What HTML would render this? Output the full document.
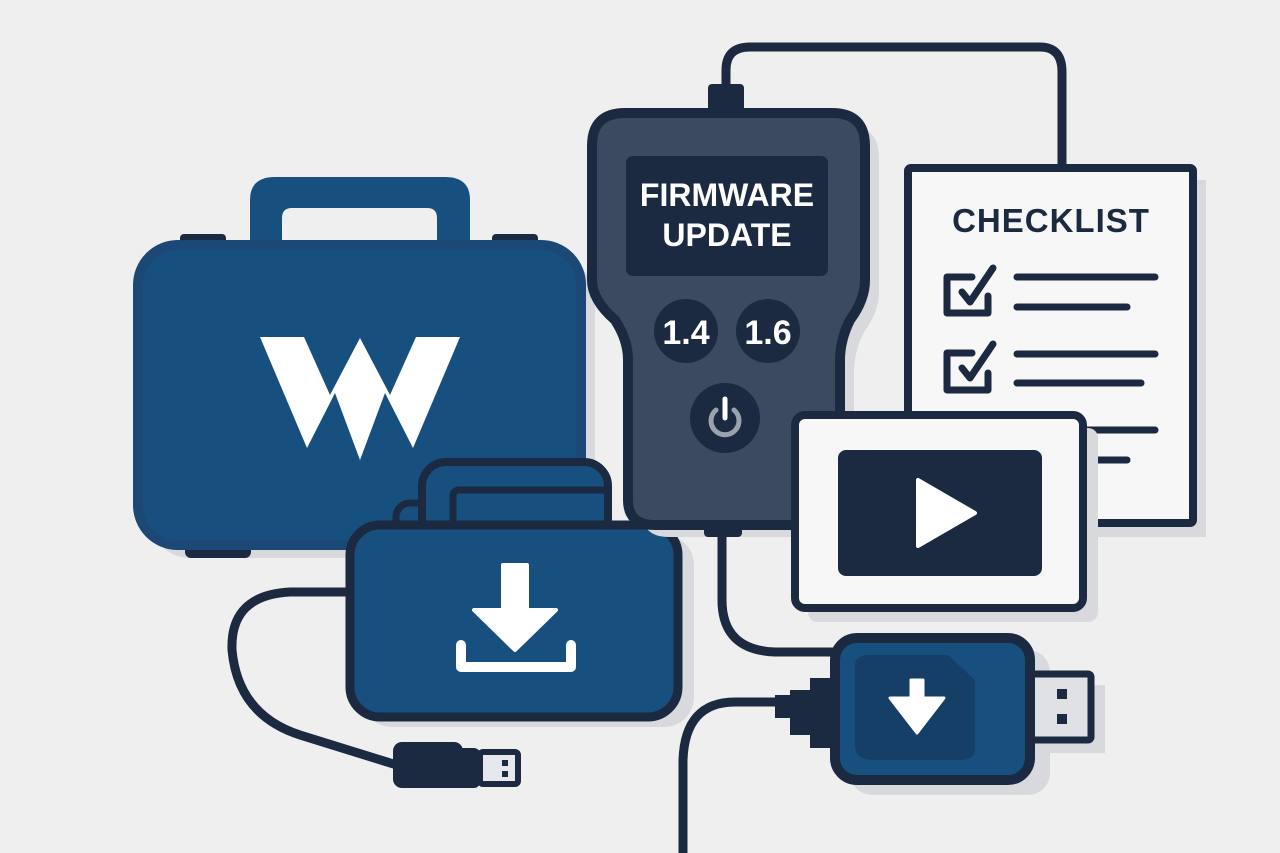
<!DOCTYPE html>
<html><head><meta charset="utf-8"><style>html,body{margin:0;padding:0;background:#efefef}svg{display:block}</style></head>
<body>
<svg width="1280" height="853" viewBox="0 0 1280 853" xmlns="http://www.w3.org/2000/svg" font-family="Liberation Sans, sans-serif">
<rect width="1280" height="853" fill="#efefef"/>
<g fill="none" stroke="#1b2a40" stroke-linecap="round" stroke-linejoin="round">
<path d="M726 88 V70 Q726 47 750 47 H1040 Q1062 47 1062 72 V170" stroke-width="9"/>
<path d="M722 532 V600 Q722 650 775 652 H840" stroke-width="9"/>
<path d="M775 702 H735 Q685 702 683 760 V853" stroke-width="9"/>
<path d="M352 592 H290 Q230 595 232 650 Q238 715 300 735 L400 766" stroke-width="9"/>
</g>
<rect x="150" y="258" width="445" height="300" rx="40" fill="#d7d9dd"/>
<path d="M250 245 V200 Q250 177 275 177 H445 Q470 177 470 200 V245 H437 V218 Q437 208 427 208 H292 Q282 208 282 218 V245 Z" fill="#17507f"/>
<rect x="180" y="234" width="46" height="16" rx="4" fill="#1b2a40"/>
<rect x="492" y="234" width="46" height="16" rx="4" fill="#1b2a40"/>
<rect x="185" y="538" width="66" height="20" rx="6" fill="#1b2a40"/>
<rect x="138" y="245" width="443" height="300" rx="40" fill="#17507f" stroke="#1b4874" stroke-width="10"/>
<polygon points="260,337 304,337 330,395 360,338 390,395 416,337 460,337 413,448 385,393 360,460 335,393 307,448" fill="#fff"/>
<rect x="362" y="535" width="332" height="192" rx="30" fill="#d7d9dd"/>
<rect x="396" y="503" width="40" height="30" rx="14" fill="#17507f" stroke="#1b2a40" stroke-width="7"/>
<rect x="422" y="462" width="186" height="80" rx="24" fill="#17507f" stroke="#1b2a40" stroke-width="8"/>
<rect x="453" y="490" width="155" height="50" rx="6" fill="none" stroke="#1b2a40" stroke-width="7"/>
<rect x="350" y="525" width="328" height="192" rx="30" fill="#17507f" stroke="#1b2a40" stroke-width="9"/>
<polygon points="503,565 527,565 527,610 556,610 515,650 474,610 503,610" fill="#fff" stroke="#fff" stroke-width="4" stroke-linejoin="round"/>
<path d="M461 645 V667 H571 V645" fill="none" stroke="#fff" stroke-width="10" stroke-linejoin="round" stroke-linecap="round"/>
<rect x="393" y="742" width="70" height="46" rx="9" fill="#1b2a40"/>
<rect x="420" y="748" width="60" height="40" rx="6" fill="#1b2a40"/>
<rect x="480" y="752" width="38" height="32" rx="3" fill="#e6e8eb" stroke="#1b2a40" stroke-width="6"/>
<rect x="502" y="760" width="6" height="6" fill="#1b2a40"/><rect x="502" y="771" width="6" height="6" fill="#1b2a40"/>
<path d="M625 113 H832 Q865 113 865 146 V280 Q865 300 850 320 Q840 340 840 360 V500 Q840 525 815 525 H655 Q628 525 628 500 V360 Q628 340 615 320 Q592 300 592 280 V146 Q592 113 625 113 Z" fill="#d7d9dd" transform="translate(14,12)"/>
<rect x="708" y="84" width="36" height="34" rx="4" fill="#1b2a40"/>
<rect x="704" y="515" width="38" height="22" rx="4" fill="#1b2a40"/>
<path d="M625 113 H832 Q865 113 865 146 V280 Q865 300 850 320 Q840 340 840 360 V500 Q840 525 815 525 H655 Q628 525 628 500 V360 Q628 340 615 320 Q592 300 592 280 V146 Q592 113 625 113 Z" fill="#3b4a5e" stroke="#1b2a40" stroke-width="10"/>
<rect x="626" y="156" width="202" height="120" rx="7" fill="#1b2a40"/>
<text x="727" y="206" fill="#fff" font-size="32" font-weight="bold" text-anchor="middle">FIRMWARE</text>
<text x="727" y="246" fill="#fff" font-size="32" font-weight="bold" text-anchor="middle">UPDATE</text>
<circle cx="686" cy="331" r="32" fill="#1b2a40"/>
<circle cx="768" cy="331" r="32" fill="#1b2a40"/>
<text x="686" y="344" fill="#fff" font-size="34" font-weight="bold" text-anchor="middle">1.4</text>
<text x="768" y="344" fill="#fff" font-size="34" font-weight="bold" text-anchor="middle">1.6</text>
<circle cx="725" cy="418" r="35" fill="#1b2a40"/>
<path d="M716 410 A14 14 0 1 0 734 410" fill="none" stroke="#9aa3ad" stroke-width="5" stroke-linecap="round"/>
<line x1="725" y1="399" x2="725" y2="418" stroke="#fff" stroke-width="5" stroke-linecap="round"/>
<rect x="920" y="180" width="286" height="357" fill="#d7d9dd"/>
<rect x="908" y="168" width="285" height="355" rx="3" fill="#f7f7f8" stroke="#1b2a40" stroke-width="8"/>
<text x="1051" y="232" fill="#1b2a40" font-size="33" font-weight="bold" text-anchor="middle" letter-spacing="1">CHECKLIST</text>
<g fill="none" stroke="#1b2a40" stroke-width="7" stroke-linecap="round" stroke-linejoin="round">
<path d="M972 277 H947 V313 H988 V296"/><path d="M962 292 L970 302 L993 268"/>
<path d="M972 353 H947 V390 H988 V373"/><path d="M962 368 L970 378 L993 344"/>
<line x1="1017" y1="277" x2="1155" y2="277"/><line x1="1017" y1="307" x2="1127" y2="307"/>
<line x1="1017" y1="354" x2="1155" y2="354"/><line x1="1017" y1="383" x2="1141" y2="383"/>
<line x1="1080" y1="430" x2="1155" y2="430"/><line x1="1080" y1="460" x2="1127" y2="460"/>
</g>
<rect x="808" y="428" width="290" height="194" rx="10" fill="#d7d9dd"/>
<rect x="795" y="415" width="288" height="193" rx="10" fill="#f7f7f8" stroke="#1b2a40" stroke-width="8"/>
<rect x="838" y="450" width="204" height="126" rx="8" fill="#1b2a40"/>
<polygon points="918,480 918,546 975,513" fill="#fff" stroke="#fff" stroke-width="4" stroke-linejoin="round"/>
<rect x="850" y="650" width="200" height="145" rx="22" fill="#d7d9dd"/>
<rect x="1025" y="685" width="80" height="68" fill="#d7d9dd"/>
<path d="M775 695 H790 V690 H810 V678 H836 V748 H810 V735 H790 V718 H775 Z" fill="#1b2a40"/>
<rect x="1025" y="674" width="66" height="66" rx="3" fill="#dfe1e4" stroke="#1b2a40" stroke-width="7"/>
<rect x="1057" y="689" width="10" height="10" fill="#1b2a40"/><rect x="1057" y="714" width="10" height="10" fill="#1b2a40"/>
<rect x="835" y="638" width="195" height="142" rx="22" fill="#17507f" stroke="#1b2a40" stroke-width="10"/>
<path d="M855 665 Q855 655 870 655 H948 L975 680 V750 Q975 760 960 760 H872 Q855 760 855 745 Z" fill="#163f67"/>
<polygon points="911,680 923,680 923,698 944,698 917,733 890,698 911,698" fill="#fff" stroke="#fff" stroke-width="3" stroke-linejoin="round"/>
</svg>
</body></html>
